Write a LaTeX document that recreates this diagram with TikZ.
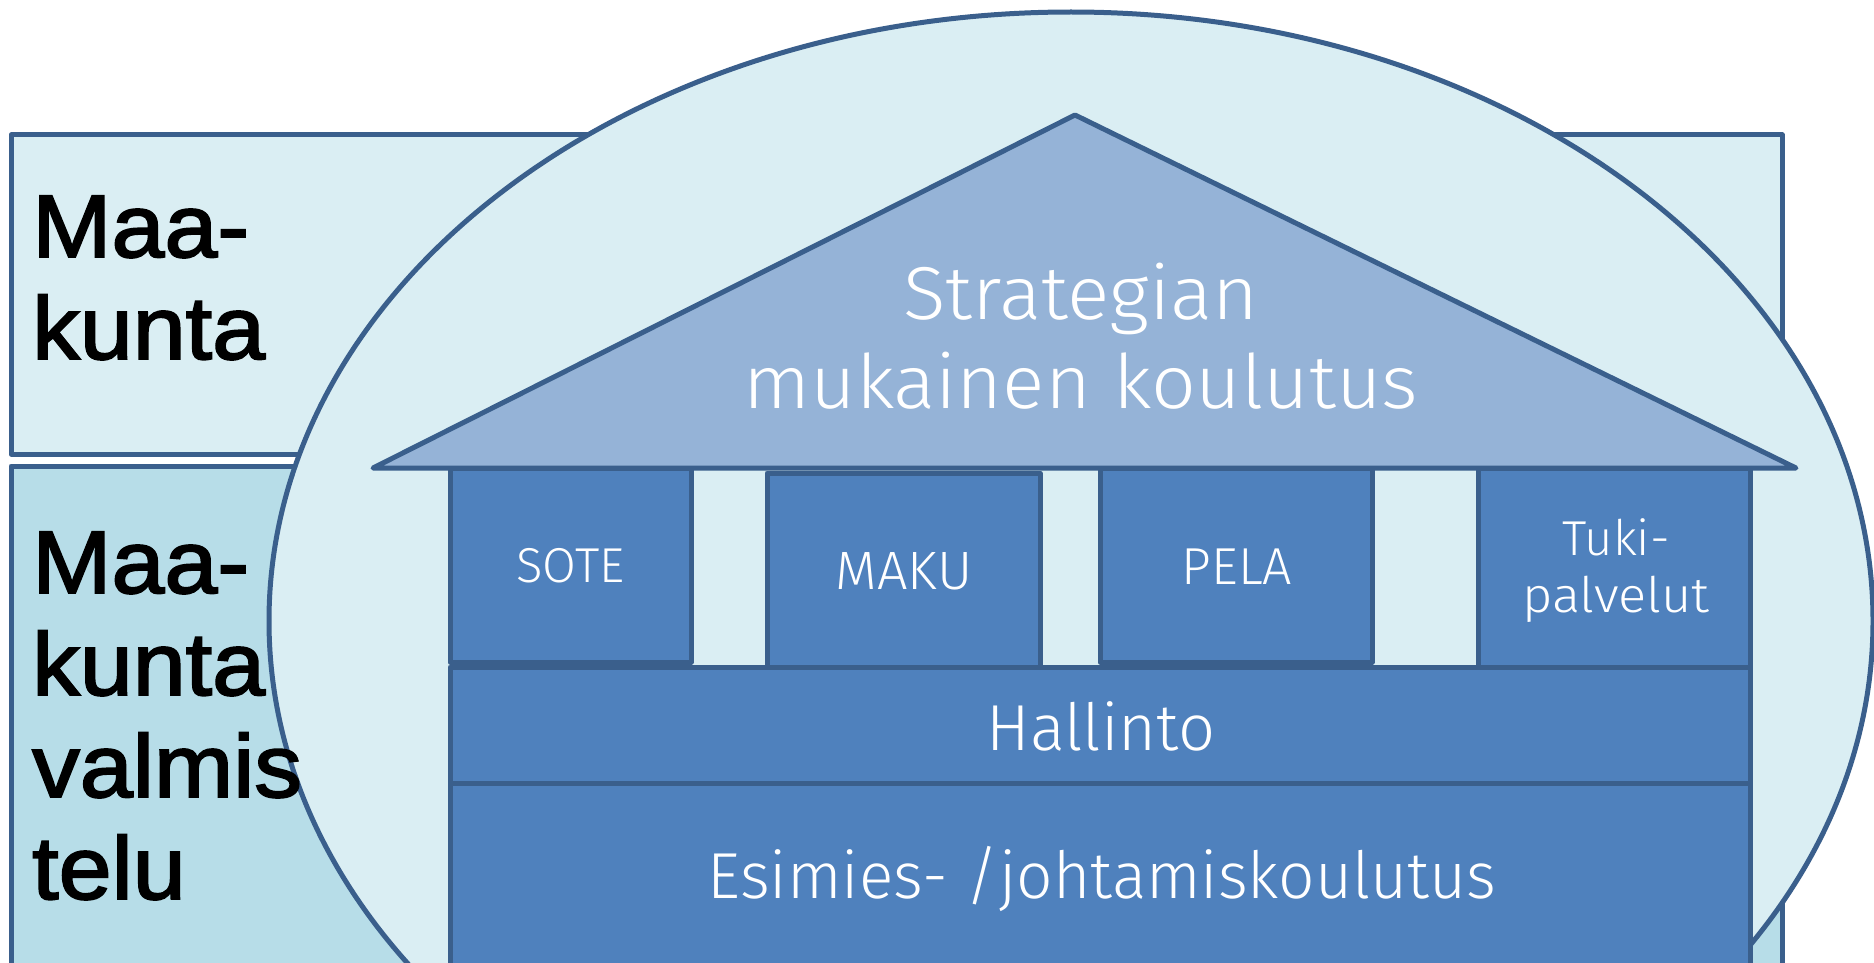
\documentclass[tikz,border=0pt]{standalone}
\usepackage{fontspec}
\usetikzlibrary{shapes.geometric}
\setmainfont{Liberation Sans}[FakeBold=2.2, FakeStretch=1.07]
\newfontfamily\hf{Fira Sans Light}
\definecolor{lineblue}{HTML}{3A5F8C}
\definecolor{ellfill}{HTML}{DAEEF3}
\definecolor{rectfill}{HTML}{B7DDE8}
\definecolor{rooffill}{HTML}{95B3D7}
\definecolor{boxfill}{HTML}{4F81BD}
\tikzset{
  outline/.style={draw=lineblue, line width=5pt, line join=round},
  col/.style={outline, fill=boxfill, inner sep=0pt, minimum width=#1},
  blk/.style={font=\fontsize{89}{102}\selectfont, text=black, inner sep=0pt, anchor=base west},
  wt/.style={text=white, inner sep=0pt, anchor=base},
}
\begin{document}
\begin{tikzpicture}[x=1pt,y=-1pt]
\useasboundingbox (0,0) rectangle (1874,963);
\clip (0,0) rectangle (1874,963);
% side rectangles
\node[outline, fill=ellfill, minimum width=1771, minimum height=319, inner sep=0pt] (maak) at (896.5,294.5) {};
\node[outline, fill=rectfill, minimum width=1771, minimum height=520, inner sep=0pt] (valm) at (896.5,726) {};
% ellipse
\node[outline, fill=ellfill, ellipse, minimum width=1604, minimum height=1218, inner sep=0pt] (ell) at (1071,621) {};
% roof
\coordinate (apex) at (1075,115);
\coordinate (rl) at (373,468);
\coordinate (rr) at (1796,468);
\draw[outline, fill=rooffill] (rl) -- (apex) -- (rr) -- cycle;
% columns
\node[col=241, minimum height=194] (sote) at (570.5,565) {};
\node[col=273, minimum height=195] (maku) at (903.5,570.5) {};
\node[col=272, minimum height=194] (pela) at (1236,565) {};
\node[col=272, minimum height=199] (tuki) at (1614,567.5) {};
\node[col=1300, minimum height=116] (hall) at (1100,725) {};
\node[col=1300, minimum height=200] (esim) at (1100,883) {};
% texts
\node[blk] (t1) at (32,257) {Maa-};
\node[blk] (t2) at (32,359) {kunta};
\node[blk] (t3) at (32,593) {Maa-};
\node[blk] (t4) at (32,695) {kunta};
\node[blk] (t5) at (32,797) {valmis};
\node[blk] (t6) at (32,899) {telu};
\node[wt, font=\hf\addfontfeature{FakeStretch=1.05}\fontsize{75}{89}\selectfont] (s1) at (1081,319) {Strategian};
\node[wt, font=\hf\addfontfeature{FakeStretch=1.05}\fontsize{75}{89}\selectfont] (s2) at (1081,408) {mukainen koulutus};
\node[wt, font=\hf\fontsize{49}{57}\selectfont] (l1) at (570.5,582) {SOTE};
\node[wt, font=\hf\fontsize{54}{57}\selectfont] (l2) at (904,589) {MAKU};
\node[wt, font=\hf\fontsize{52}{57}\selectfont] (l3) at (1237,584) {PELA};
\node[wt, font=\hf\fontsize{49}{57}\selectfont] (l4) at (1616,555) {Tuki-};
\node[wt, font=\hf\addfontfeature{FakeStretch=1.07}\fontsize{49}{57}\selectfont] (l5) at (1616,612) {palvelut};
\node[wt, font=\hf\fontsize{65}{78}\selectfont] (h) at (1101,750) {Hallinto};
\node[wt, font=\hf\addfontfeature{FakeStretch=0.985}\fontsize{65}{78}\selectfont] (e) at (1102,898) {Esimies- /johtamiskoulutus};
\end{tikzpicture}
\end{document}
